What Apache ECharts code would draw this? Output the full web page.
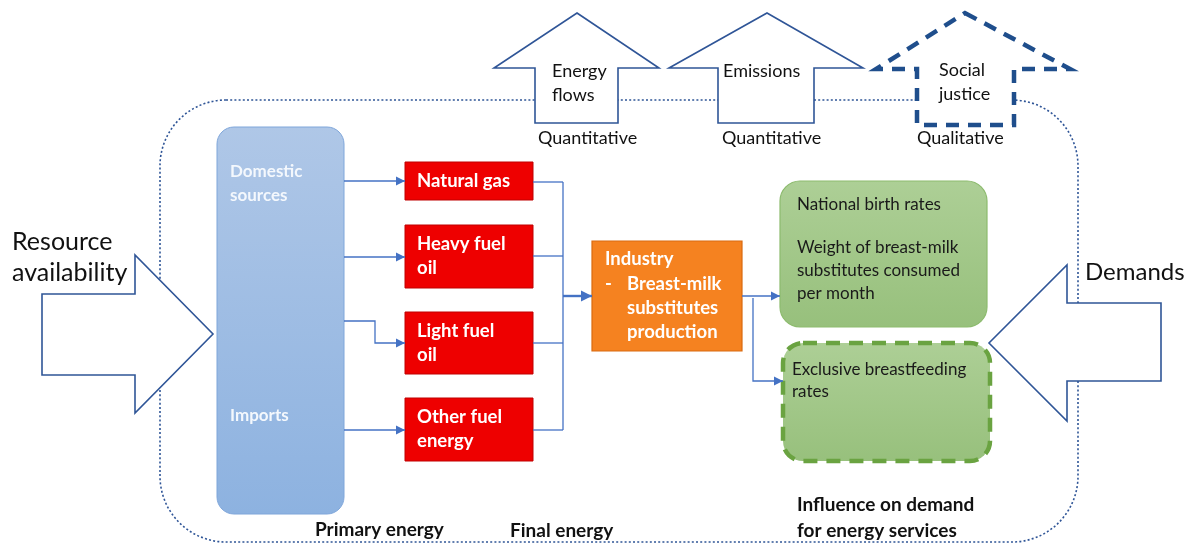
<!DOCTYPE html>
<html>
<head>
<meta charset="utf-8">
<script src="https://cdn.jsdelivr.net/npm/echarts@6/dist/echarts.min.js"></script>
<style>
  html, body { margin: 0; padding: 0; background: #fff; }
  #main { width: 1191px; height: 543px; }
</style>
</head>
<body>
<div id="main"></div>
<script>
// diagram units = axis units (x 0..1191, y 0..543 top-down)
const boundary = [160, 100, 1078, 542, 66];

// up arrows: [headL, shaftL, apexX, shaftR, headR, apexY, shoulderY, baseY]
const upArrowGeom = [
  [494, 535, 577, 618, 659, 13, 68, 123],
  [669, 718, 767, 814, 863, 13, 68, 123],
  [876, 917, 965, 1014, 1070, 13, 69, 125]
];
const upArrowText = [['Energy', 'flows'], ['Emissions'], ['Social', 'justice']];
const upArrowTextAt = [[552, 71], [723, 71], [939, 70]];
const upArrowKind = ['Quantitative', 'Quantitative', 'Qualitative'];
const upArrowKindAt = [[538, 138], [722, 138], [917, 138]];

// side arrows: [tailX, neckX, tipX, headTop, shaftTop, shaftBot, headBot]
const sideArrowGeom = [
  [42, 135, 213, 255, 294, 375, 413],
  [1161, 1067, 989, 265, 303, 381, 421]
];
const sideArrowText = [['Resource', 'availability'], ['Demands']];
const sideArrowTextAt = [[12, 242], [1085, 272]];

// primary energy box
const sourceBox = [217, 127, 344, 514];
const sourceLabels = [['Domestic', 'sources'], ['Imports']];
const sourceLabelY = [172, 416];

// final energy carriers
const fuelX = [405, 533];
const fuelRows = [[162, 200], [225, 288], [312, 374], [398, 461]];
const fuelLabels = [['Natural gas'], ['Heavy fuel', 'oil'], ['Light fuel', 'oil'], ['Other fuel', 'energy']];

// industry
const industryBox = [592, 241, 742, 351];
const industryLabels = ['Industry', 'Breast-milk', 'substitutes', 'production'];
const industryLabelY = [259, 284, 308, 332];

// demand boxes
const demandBoxes = [[780, 181, 987, 327], [783, 343, 990, 461]];
const demandLabels = [
  ['National birth rates', 'Weight of breast-milk', 'substitutes consumed', 'per month'],
  ['Exclusive breastfeeding', 'rates']
];
const demandLabelY = [[205, 248, 271, 294], [370, 392]];
const demandDashed = [false, true];

// connectors: [points, hasArrow, width]
const connectors = [
  [[[344, 181], [405, 181]], true, 1.3],
  [[[344, 257], [405, 257]], true, 1.3],
  [[[344, 321], [375, 321], [375, 343], [405, 343]], true, 1.3],
  [[[344, 430], [405, 430]], true, 1.3],
  [[[533, 182], [563, 182]], false, 1.3],
  [[[533, 256], [563, 256]], false, 1.3],
  [[[533, 343], [563, 343]], false, 1.3],
  [[[533, 430], [563, 430]], false, 1.3],
  [[[563, 182], [563, 430]], false, 1.3],
  [[[563, 296], [592, 296]], true, 2.4],
  [[[742, 296], [780, 296]], true, 1.3],
  [[[753, 298], [753, 381], [783, 381]], true, 1.3]
];

const captions = [['Primary energy', 315, 530], ['Final energy', 510, 531],
  ['Influence on demand', 797, 505], ['for energy services', 797, 531]];

const FONT = 'Lato, "Open Sans", sans-serif';
const OUTLINE = '#2F5597';
const LINK = '#4472C4';

function txt(api, s, x, y, size, weight, color, align) {
  const p = api.coord([x, y]);
  return {
    type: 'text',
    style: {
      text: s, x: p[0], y: p[1], fill: color,
      fontSize: size, fontWeight: weight, fontFamily: FONT,
      align: align || 'left', verticalAlign: 'middle'
    }
  };
}

function rectFrom(api, b) {
  const a = api.coord([b[0], b[1]]);
  const c = api.coord([b[2], b[3]]);
  return { x: a[0], y: a[1], width: c[0] - a[0], height: c[1] - a[1] };
}

const chart = echarts.init(document.getElementById('main'));

chart.setOption({
  animation: false,
  grid: { left: 0, right: 0, top: 0, bottom: 0 },
  xAxis: { type: 'value', min: 0, max: 1191, show: false },
  yAxis: { type: 'value', min: 0, max: 543, inverse: true, show: false },
  series: [
    {
      // dotted system boundary
      type: 'custom', silent: true,
      data: [boundary],
      renderItem: (params, api) => {
        const r = rectFrom(api, boundary);
        r.r = boundary[4];
        return {
          type: 'rect', shape: r,
          style: { fill: 'none', stroke: OUTLINE, lineWidth: 1.6, lineDash: [2, 2.2] }
        };
      }
    },
    {
      // up block arrows
      type: 'custom', silent: true,
      data: upArrowGeom,
      renderItem: (params, api) => {
        const i = params.dataIndex;
        const g = upArrowGeom[i];
        const pts = [
          [g[2], g[5]], [g[4], g[6]], [g[3], g[6]], [g[3], g[7]],
          [g[1], g[7]], [g[1], g[6]], [g[0], g[6]]
        ].map(q => api.coord(q));
        const dashed = i === 2;
        const children = [{
          type: 'polygon', shape: { points: pts },
          style: dashed
            ? { fill: '#fff', stroke: '#1F4E8C', lineWidth: 4.5, lineDash: [13, 9] }
            : { fill: '#fff', stroke: OUTLINE, lineWidth: 1.6 }
        }];
        upArrowText[i].forEach((s, k) => {
          children.push(txt(api, s, upArrowTextAt[i][0], upArrowTextAt[i][1] + k * 24, 18, 'normal', '#111'));
        });
        children.push(txt(api, upArrowKind[i], upArrowKindAt[i][0], upArrowKindAt[i][1], 18, 'normal', '#111'));
        return { type: 'group', children };
      }
    },
    {
      // side block arrows
      type: 'custom', silent: true,
      data: sideArrowGeom,
      renderItem: (params, api) => {
        const i = params.dataIndex;
        const g = sideArrowGeom[i];
        const tipY = (g[3] + g[6]) / 2;
        const pts = [
          [g[0], g[4]], [g[1], g[4]], [g[1], g[3]], [g[2], tipY],
          [g[1], g[6]], [g[1], g[5]], [g[0], g[5]]
        ].map(q => api.coord(q));
        const children = [{
          type: 'polygon', shape: { points: pts },
          style: { fill: '#fff', stroke: OUTLINE, lineWidth: 1.6 }
        }];
        const size = i === 0 ? 25 : 24;
        sideArrowText[i].forEach((s, k) => {
          children.push(txt(api, s, sideArrowTextAt[i][0], sideArrowTextAt[i][1] + k * 31, size, 'normal', '#111'));
        });
        return { type: 'group', children };
      }
    },
    {
      // primary energy sources
      type: 'custom', silent: true,
      data: [sourceBox],
      renderItem: (params, api) => {
        const r = rectFrom(api, sourceBox);
        r.r = 17;
        const children = [{
          type: 'rect', shape: r,
          style: {
            fill: new echarts.graphic.LinearGradient(0, 0, 0, 1, [
              { offset: 0, color: '#AFC7E7' },
              { offset: 1, color: '#8DB2E0' }
            ]),
            stroke: '#7FA6DA', lineWidth: 1
          }
        }];
        sourceLabels.forEach((lines, j) => {
          lines.forEach((s, k) => {
            children.push(txt(api, s, sourceBox[0] + 13, sourceLabelY[j] + k * 24, 17, 'bold', '#F4F8FD'));
          });
        });
        return { type: 'group', children };
      }
    },
    {
      // fuels
      type: 'custom', silent: true,
      data: fuelRows,
      renderItem: (params, api) => {
        const i = params.dataIndex;
        const row = fuelRows[i];
        const r = rectFrom(api, [fuelX[0], row[0], fuelX[1], row[1]]);
        const children = [{
          type: 'rect', shape: r,
          style: { fill: '#EE0000', stroke: '#C00000', lineWidth: 1 }
        }];
        const lines = fuelLabels[i];
        const mid = (row[0] + row[1]) / 2;
        lines.forEach((s, k) => {
          const y = mid + (k - (lines.length - 1) / 2) * 24;
          children.push(txt(api, s, fuelX[0] + 12, y, 18.5, 'bold', '#fff'));
        });
        return { type: 'group', children };
      }
    },
    {
      // industry
      type: 'custom', silent: true,
      data: [industryBox],
      renderItem: (params, api) => {
        const r = rectFrom(api, industryBox);
        const x0 = industryBox[0];
        const children = [{
          type: 'rect', shape: r,
          style: { fill: '#F58220', stroke: '#D96A10', lineWidth: 1.2 }
        }];
        children.push(txt(api, industryLabels[0], x0 + 13, industryLabelY[0], 18.5, 'bold', '#fff'));
        children.push(txt(api, '-', x0 + 13, industryLabelY[1], 18.5, 'bold', '#fff'));
        for (let k = 1; k < industryLabels.length; k++) {
          children.push(txt(api, industryLabels[k], x0 + 35, industryLabelY[k], 18.5, 'bold', '#fff'));
        }
        return { type: 'group', children };
      }
    },
    {
      // demand boxes
      type: 'custom', silent: true,
      data: demandBoxes,
      renderItem: (params, api) => {
        const i = params.dataIndex;
        const b = demandBoxes[i];
        const r = rectFrom(api, b);
        r.r = 20;
        const children = [{
          type: 'rect', shape: r,
          style: {
            fill: new echarts.graphic.LinearGradient(0, 0, 0, 1, [
              { offset: 0, color: '#ADCF96' },
              { offset: 1, color: '#97C07C' }
            ]),
            stroke: demandDashed[i] ? '#6AA341' : '#8DBB6E',
            lineWidth: demandDashed[i] ? 4.5 : 1.2,
            lineDash: demandDashed[i] ? [14, 9] : null
          }
        }];
        const x = demandDashed[i] ? b[0] + 9 : b[0] + 17;
        demandLabels[i].forEach((s, k) => {
          children.push(txt(api, s, x, demandLabelY[i][k], 17, 'normal', '#1a1a1a'));
        });
        return { type: 'group', children };
      }
    },
    {
      // connectors
      type: 'custom', silent: true,
      data: connectors.map((c, i) => [i]),
      renderItem: (params, api) => {
        const c = connectors[params.dataIndex];
        const pts = c[0].map(q => api.coord(q));
        const children = [{
          type: 'polyline', shape: { points: pts },
          style: { fill: 'none', stroke: LINK, lineWidth: c[2] }
        }];
        if (c[1]) {
          const a = pts[pts.length - 2];
          const b = pts[pts.length - 1];
          const len = Math.hypot(b[0] - a[0], b[1] - a[1]);
          const ux = (b[0] - a[0]) / len, uy = (b[1] - a[1]) / len;
          const L = c[2] > 2 ? 11 : 9, W = c[2] > 2 ? 5.5 : 4.5;
          const bx = b[0] - ux * L, by = b[1] - uy * L;
          children.push({
            type: 'polygon',
            shape: { points: [b, [bx - uy * W, by + ux * W], [bx + uy * W, by - ux * W]] },
            style: { fill: LINK }
          });
        }
        return { type: 'group', children };
      }
    },
    {
      // captions
      type: 'custom', silent: true,
      data: captions.map(c => [c[1], c[2]]),
      renderItem: (params, api) => {
        const c = captions[params.dataIndex];
        return txt(api, c[0], c[1], c[2], 19, 'bold', '#111');
      }
    }
  ]
});
</script>
</body>
</html>
